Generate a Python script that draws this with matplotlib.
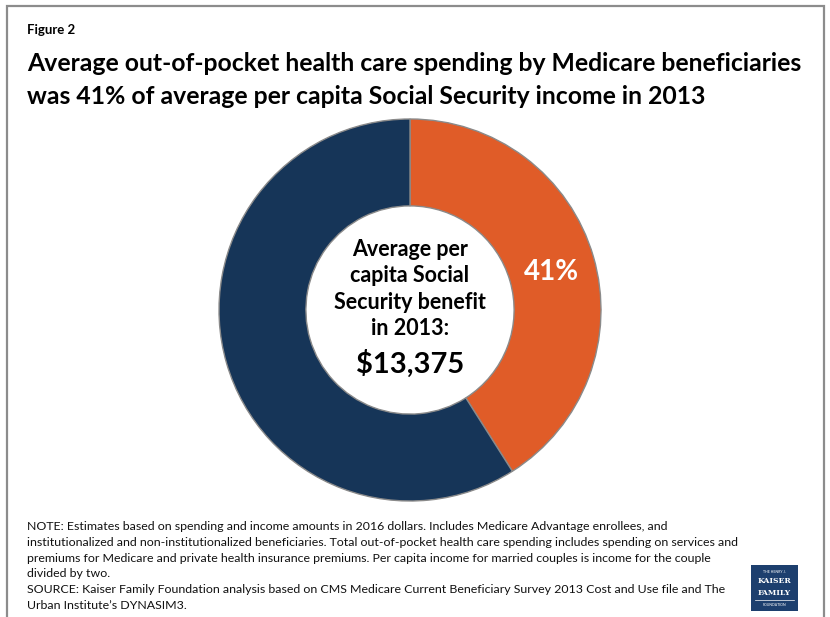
import matplotlib
matplotlib.use("Agg")
import matplotlib.pyplot as plt
from matplotlib.patches import Rectangle

# Share of per capita Social Security income spent out of pocket on health care
categories = ["Out-of-pocket health care spending", "Remaining Social Security income"]
shares = [41, 59]
colors = ["#E05C28", "#163558"]
center_label = "Average per\ncapita Social\nSecurity benefit\nin 2013:"
benefit = "$13,375"

title_small = "Figure 2"
title = ("Average out-of-pocket health care spending by Medicare beneficiaries\n"
         "was 41% of average per capita Social Security income in 2013")
note = ("NOTE: Estimates based on spending and income amounts in 2016 dollars. Includes Medicare Advantage enrollees, and\n"
        "institutionalized and non-institutionalized beneficiaries. Total out-of-pocket health care spending includes spending on services and\n"
        "premiums for Medicare and private health insurance premiums. Per capita income for married couples is income for the couple\n"
        "divided by two.\n"
        "SOURCE: Kaiser Family Foundation analysis based on CMS Medicare Current Beneficiary Survey 2013 Cost and Use file and The\n"
        "Urban Institute\u2019s DYNASIM3.")

plt.rcParams["font.family"] = ["Lato", "DejaVu Sans"]

W, H = 830, 617
fig = plt.figure(figsize=(W / 100, H / 100), dpi=100)
fig.patch.set_facecolor("white")

# outer frame (open at the bottom)
frame_ax = fig.add_axes([0, 0, 1, 1])
frame_ax.set_xlim(0, W)
frame_ax.set_ylim(H, 0)
frame_ax.axis("off")
frame_ax.plot([7, 7, 824, 824], [H + 5, 6, 6, H + 5], color="#8c8c8c", lw=1.6,
              solid_joinstyle="miter")

# donut: center (410, 310) px, radius 191 px
cx, cy, R = 410, 310, 191
ax = fig.add_axes([(cx - R) / W, 1 - (cy + R) / H, 2 * R / W, 2 * R / H])
wedges, _ = ax.pie(shares, colors=colors, startangle=90, counterclock=False,
                   radius=1.0,
                   wedgeprops=dict(width=0.455, edgecolor="#8a8a8a", linewidth=1.0))
ax.set_xlim(-1, 1)
ax.set_ylim(-1, 1)
ax.set_aspect("equal")
ax.axis("off")

# percentage label on the orange arc
ax.text(0.74, 0.2, f"{shares[0]}%", color="white", fontsize=20, fontweight="bold",
        ha="center", va="center")

ax.text(0, 0.11, center_label, ha="center", va="center", fontsize=15.5,
        fontweight="bold", linespacing=1.3, color="black")
ax.text(0, -0.28, benefit, ha="center", va="center", fontsize=21,
        fontweight="bold", color="black")

# headings
fig.text(27 / W, 1 - 30 / H, title_small, fontsize=9.5, fontweight="bold",
         ha="left", va="center")
fig.text(27 / W, 1 - 80 / H, title, fontsize=17.8, fontweight="bold",
         ha="left", va="center", linespacing=1.5)

# notes
fig.text(27 / W, 1 - 566 / H, note, fontsize=8.9, ha="left", va="center",
         linespacing=1.55, color="#111111")

# foundation logo
frame_ax.add_patch(Rectangle((751, 565), 47, 46, facecolor="#1d3f6e", edgecolor="none"))
frame_ax.text(774.5, 572, "THE HENRY J.", color="white", fontsize=2.5, ha="center", va="center")
frame_ax.text(774.5, 581, "KAISER", color="white", fontsize=5.5, fontweight="bold",
              ha="center", va="center", family="DejaVu Serif")
frame_ax.text(774.5, 593, "FAMILY", color="white", fontsize=5.5, fontweight="bold",
              ha="center", va="center", family="DejaVu Serif")
frame_ax.plot([755, 794], [600, 600], color="white", lw=0.5)
frame_ax.text(774.5, 605, "FOUNDATION", color="white", fontsize=2.5, ha="center", va="center")

fig.savefig("out.png", dpi=100, facecolor="white")
